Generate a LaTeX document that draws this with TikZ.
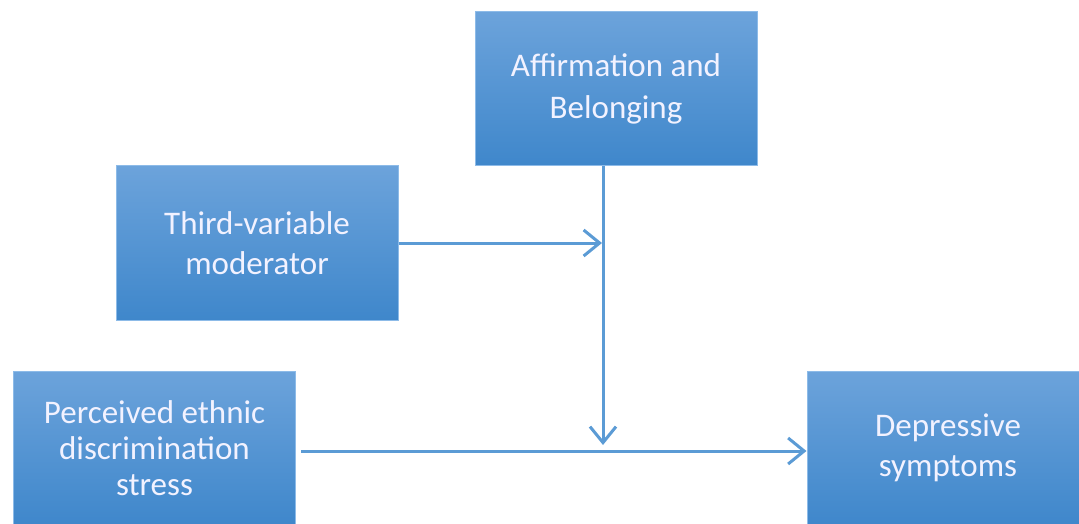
\documentclass[tikz,border=0pt]{standalone}
\usepackage{fontspec}
\setmainfont{Carlito}
\usetikzlibrary{arrows.meta}
\definecolor{boxtop}{HTML}{6CA3DB}
\definecolor{boxbot}{HTML}{3F87CB}
\definecolor{boxedge}{HTML}{8DBBE8}
\definecolor{linec}{HTML}{5B9BD5}
\tikzset{
  varbox/.style={draw=boxedge, line width=1pt, top color=boxtop, bottom color=boxbot,
    minimum width=282pt, minimum height=154pt, inner sep=0pt, text=white!95!blue,
    align=center, font=\fontsize{33}{40}\selectfont},
  conn/.style={draw=linec, line width=3pt, -{Straight Barb[length=16pt,width=26pt,line width=3pt]}}
}
\begin{document}
\begin{tikzpicture}[x=1pt,y=-1pt]
\useasboundingbox (0,0) rectangle (1079,524);
\clip (0,0) rectangle (1079,524);
\fill[white] (0,0) rectangle (1079,524);
\node[varbox, font=\fontsize{33}{42}\selectfont] (aff) at (616,89) {Affirmation and\\Belonging};
\node[varbox] (third) at (257,243) {Third-variable\\moderator};
\node[varbox, font=\fontsize{33}{36}\selectfont] (perc) at (154.5,448) {Perceived ethnic\\discrimination\\stress};
\node[varbox] (dep) at (948,448) {Depressive\\symptoms};
\coordinate (vt) at (603,445);
\coordinate (vm) at (602,243);
\draw[conn] (aff.south -| vt) -- (vt);
\draw[conn] (third.east |- vm) -- (vm);
\draw[conn, shorten <=5pt] (perc.east |- 0,451) -- (dep.west |- 0,451);
\end{tikzpicture}
\end{document}
